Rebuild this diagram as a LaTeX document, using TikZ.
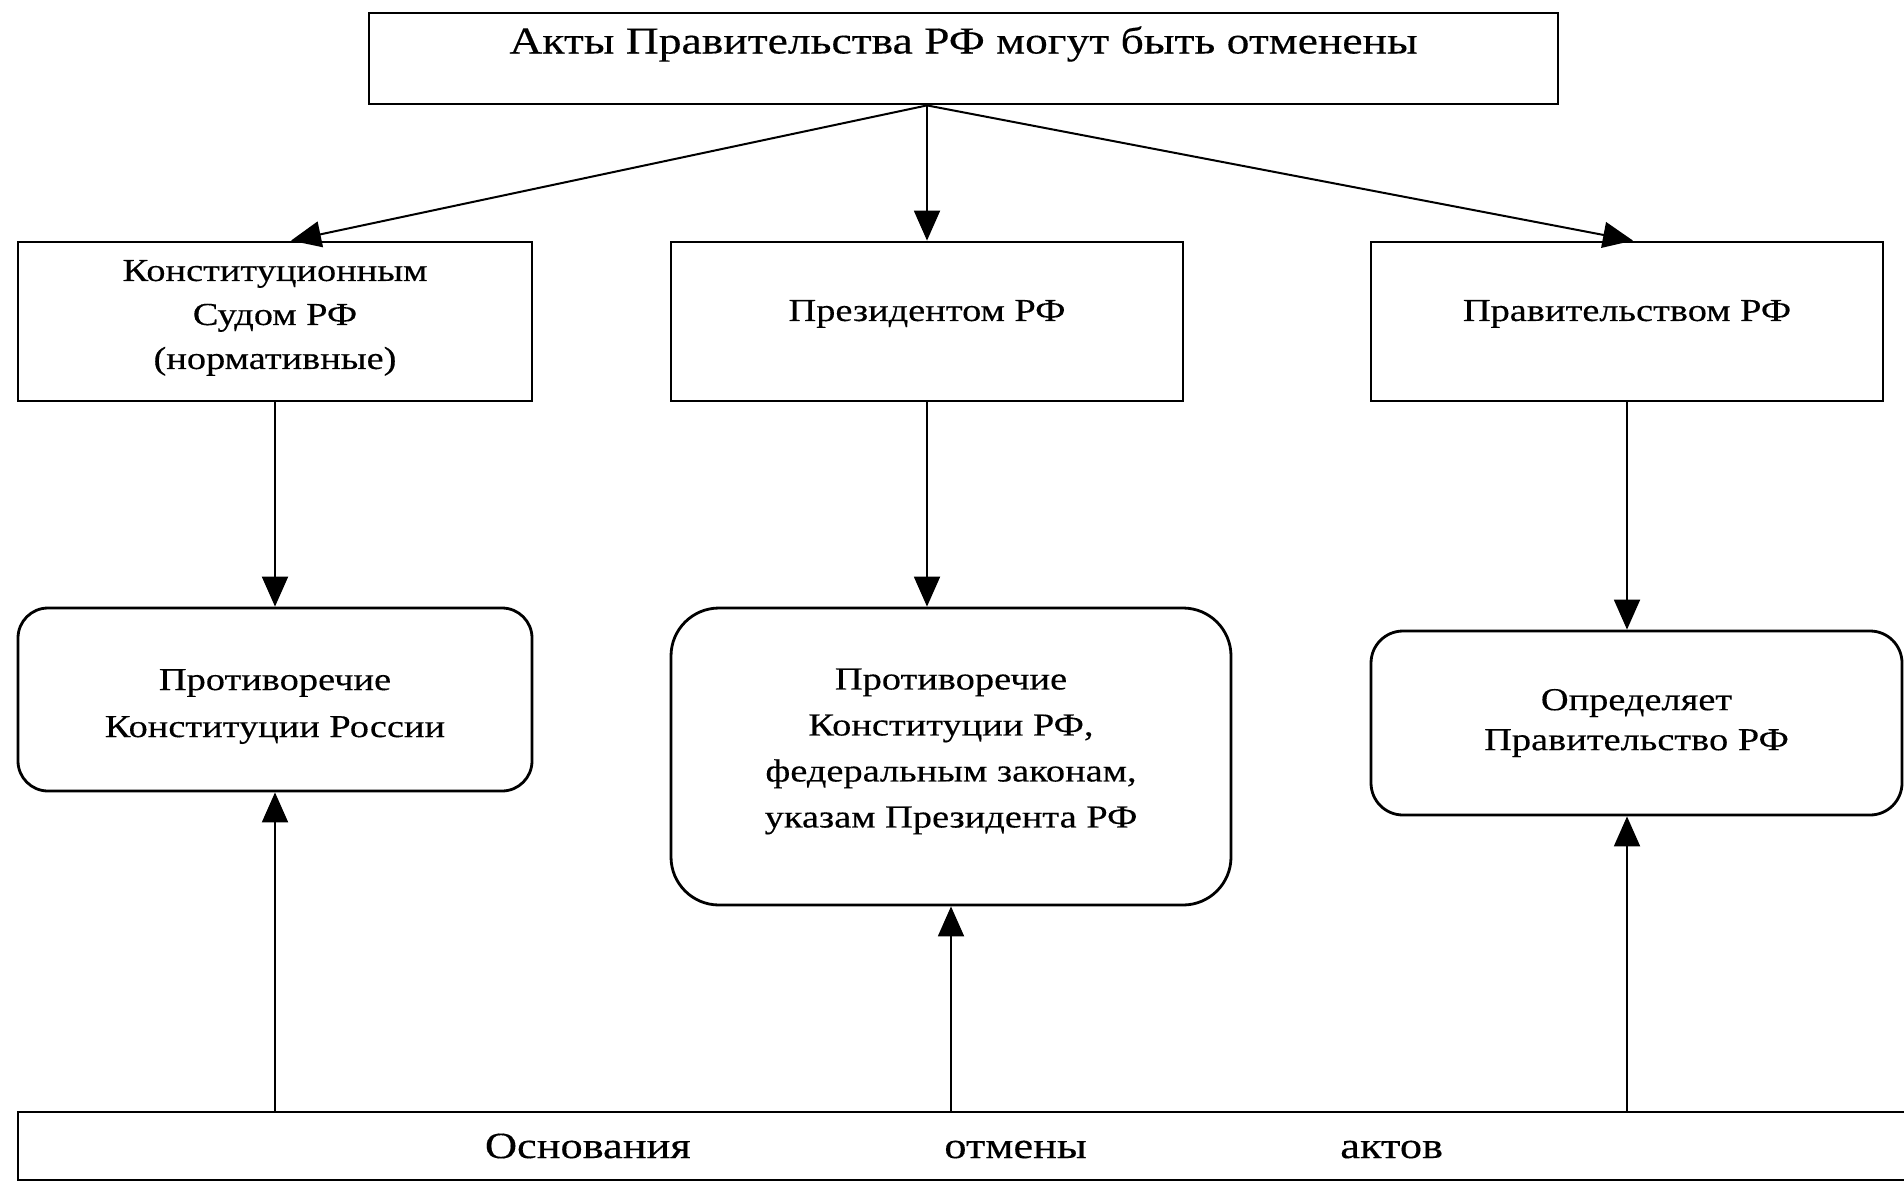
\documentclass[tikz,border=0pt]{standalone}
\usepackage{fontspec}
\setmainfont[FakeStretch=1.2,FakeBold=0.3]{Liberation Serif}
\usetikzlibrary{arrows.meta,calc}
\begin{document}
\begin{tikzpicture}[x=0.5pt,y=-0.5pt,
  every node/.style={font=\fontsize{16pt}{22pt}\selectfont, align=center, inner sep=0pt},
  sqbox/.style={draw, line width=1.4pt, rectangle},
  rbox/.style={draw, line width=1.4pt, rectangle, rounded corners=#1},
  arr/.style={line width=1pt, -{Triangle[length=15pt,width=13pt]}}]
\useasboundingbox (0,0) rectangle (1904,1183);
\fill[white] (0,0) rectangle (1904,1183);
\node[sqbox, minimum width=594.5pt, minimum height=45.5pt, text height=12pt, text depth=17pt, font=\fontsize{19pt}{22pt}\selectfont] (top) at (963.5,58.5) {Акты Правительства РФ могут быть отменены};
\node[sqbox, minimum width=257pt, minimum height=79.5pt, text depth=7pt] (L1) at (275,321.5) {Конституционным\\Судом РФ\\(нормативные)};
\node[sqbox, minimum width=256pt, minimum height=79.5pt, text depth=11pt] (M1) at (927,321.5) {Президентом РФ};
\node[sqbox, minimum width=256pt, minimum height=79.5pt, text depth=11pt] (R1) at (1627,321.5) {Правительством РФ};
\node[rbox=15pt, minimum width=257pt, minimum height=91.5pt, text height=41pt, font=\fontsize{16pt}{23.5pt}\selectfont] (L2) at (275,699.5) {Противоречие\\Конституции России};
\node[rbox=24pt, minimum width=280pt, minimum height=148.5pt, text depth=8.5pt, font=\fontsize{16pt}{23pt}\selectfont] (M2) at (951,756.5) {Противоречие\\Конституции РФ,\\федеральным законам,\\указам Президента РФ};
\node[rbox=16pt, minimum width=265.5pt, minimum height=92pt, font=\fontsize{16pt}{20pt}\selectfont] (R2) at (1636.5,723) {Определяет\\Правительство РФ};
\node[sqbox, minimum width=946pt, minimum height=34pt, font=\fontsize{18.5pt}{22pt}\selectfont] (B) at (964,1146) {\makebox[479pt][s]{Основания\hfill отмены\hfill актов}};
\draw[arr] (top.south -| M1.north) -- ([xshift=8pt]L1.north);
\draw[arr] (top.south -| M1.north) -- (M1.north);
\draw[arr] (top.south -| M1.north) -- ([xshift=3pt]R1.north);
\draw[arr] (L1.south) -- (L1.south |- L2.north);
\draw[arr] (M1.south) -- (M1.south |- M2.north);
\draw[arr] (R1.south) -- (R1.south |- R2.north);
\draw[arr] (B.north -| L2.south) -- (L2.south);
\draw[arr] (B.north -| M2.south) -- (M2.south);
\draw[arr] (B.north -| R1.south) -- (R1.south |- R2.south);
\end{tikzpicture}
\end{document}
